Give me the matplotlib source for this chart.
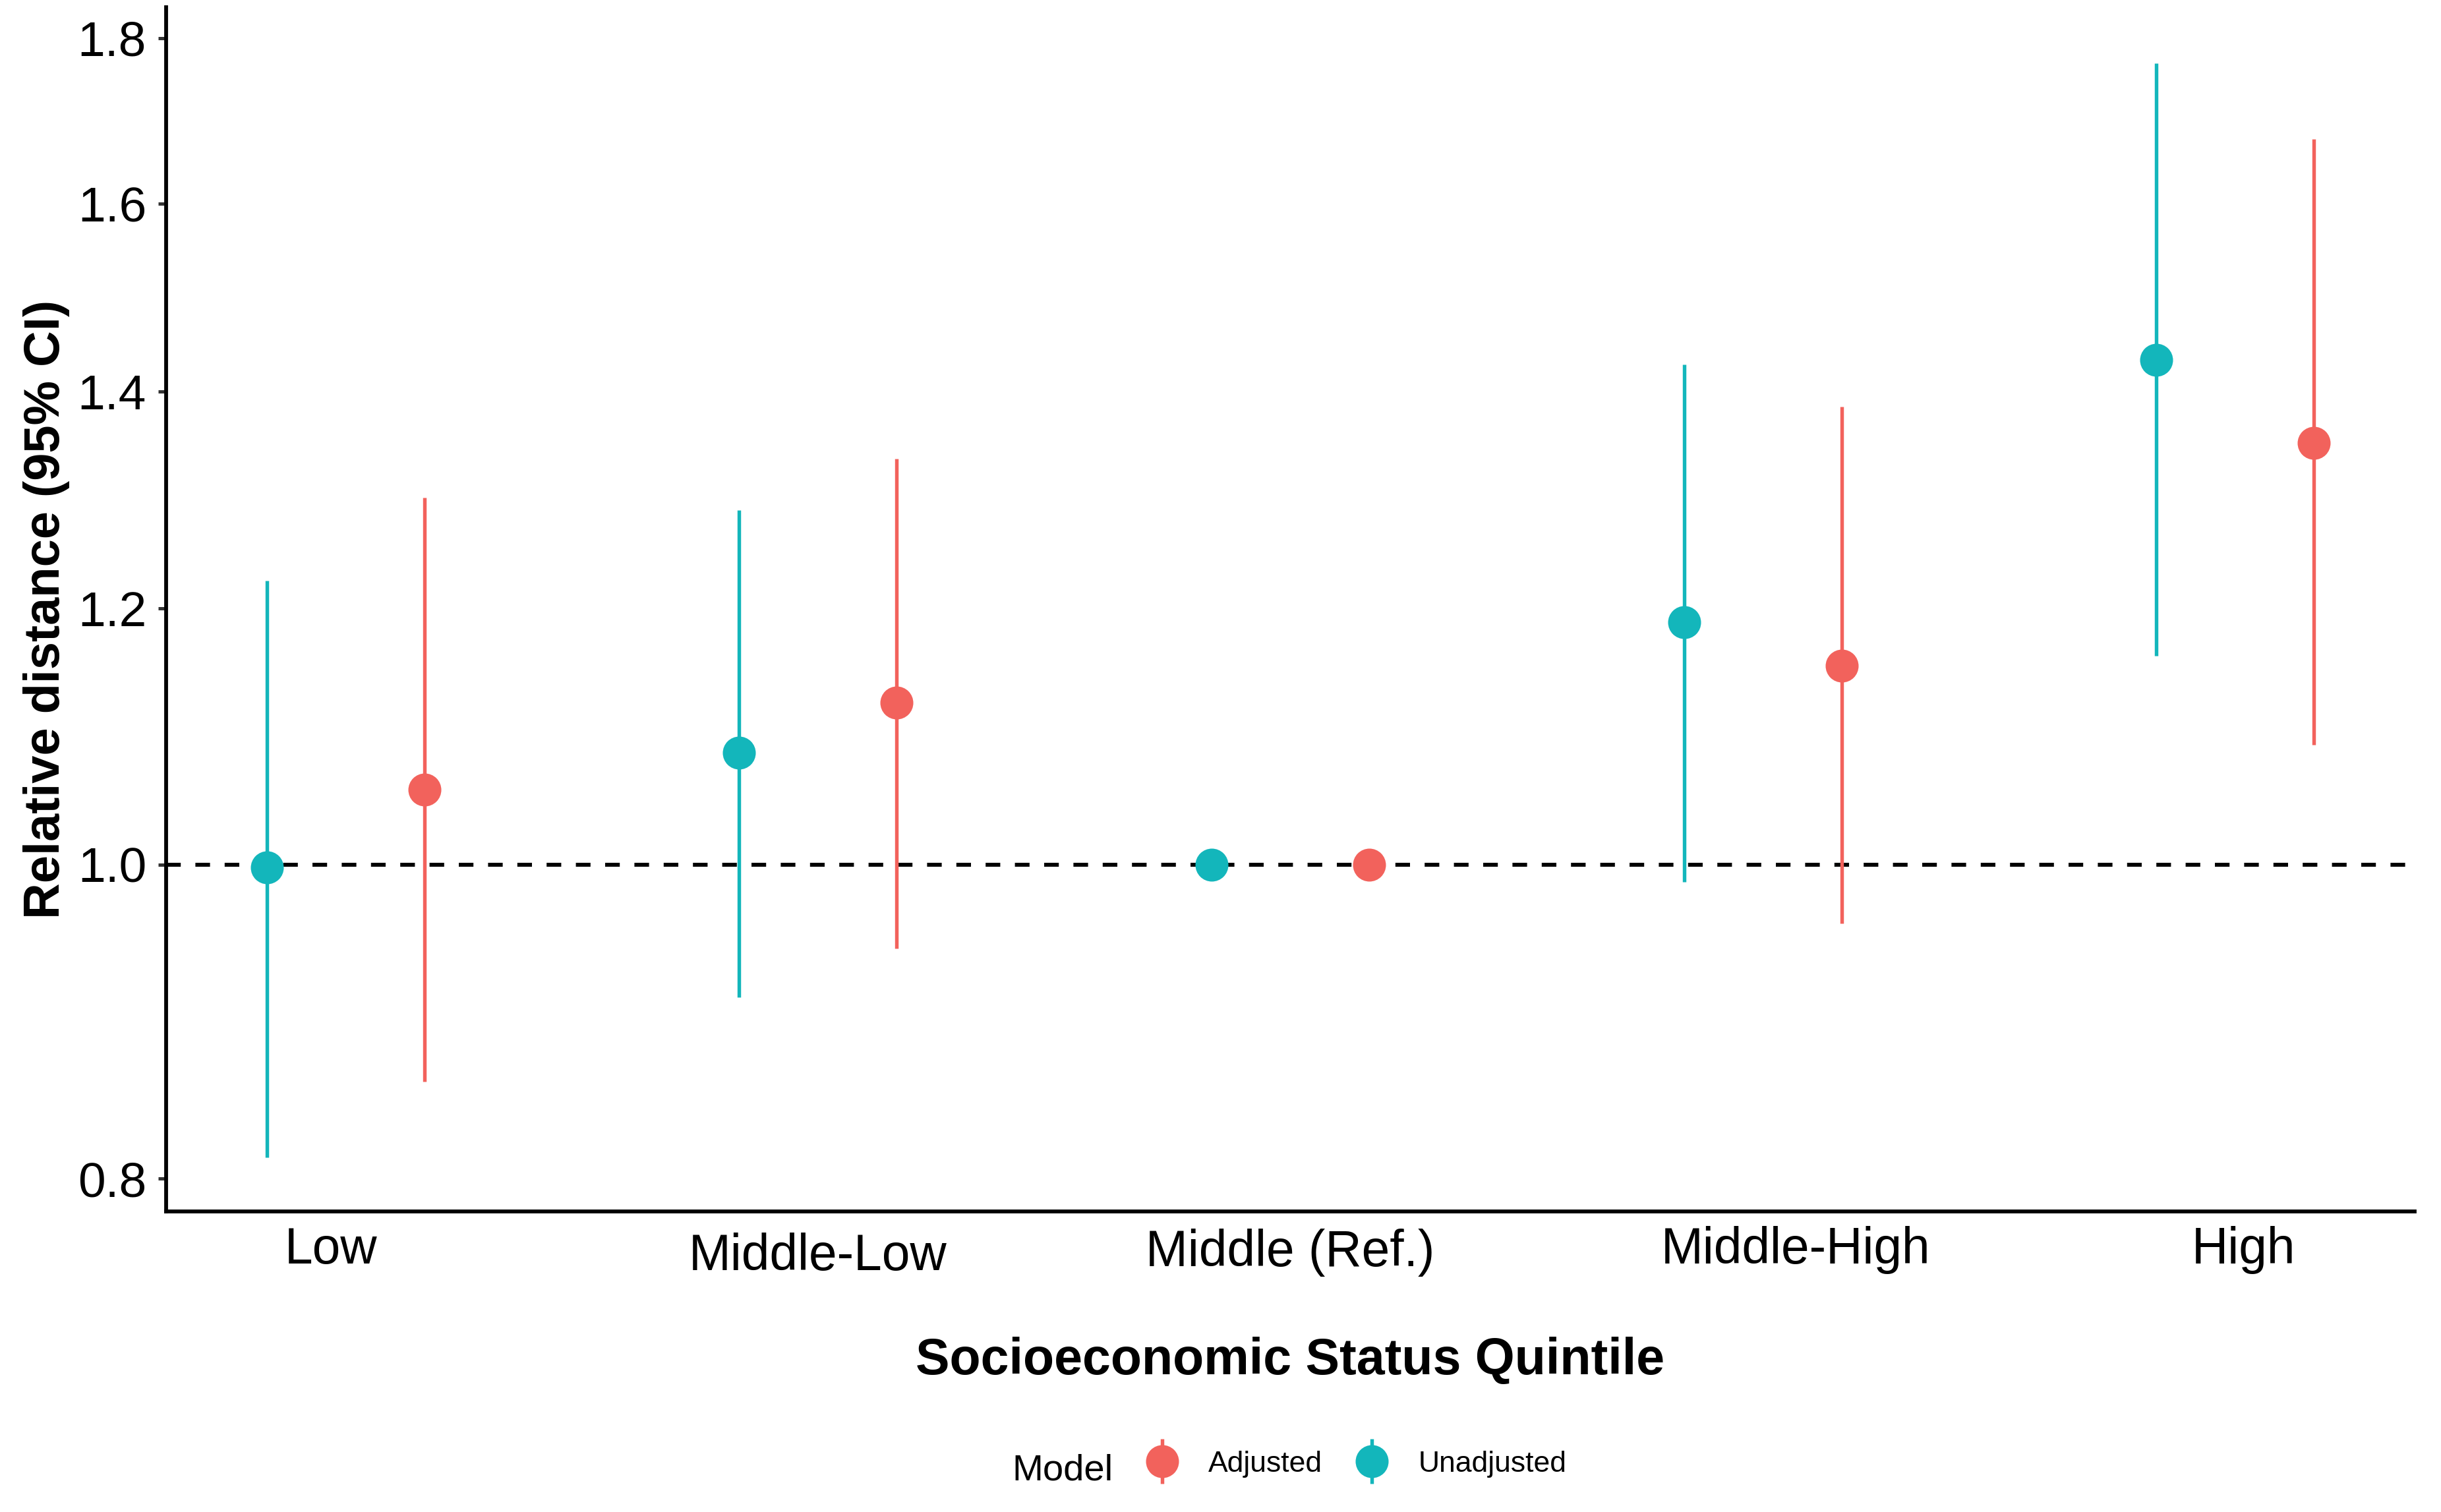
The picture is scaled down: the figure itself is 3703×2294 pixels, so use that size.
import numpy as np
import matplotlib
matplotlib.use('Agg')
from matplotlib import pyplot as plt
from matplotlib.transforms import ScaledTranslation
from matplotlib.container import ErrorbarContainer
from matplotlib.legend_handler import HandlerErrorbar

plt.rcParams['font.family'] = ['Liberation Sans', 'DejaVu Sans']

categories = ['Low', 'Middle-Low', 'Middle (Ref.)', 'Middle-High', 'High']
models = ['Adjusted', 'Unadjusted']

adj_est = [1.055, 1.122, 1.000, 1.152, 1.350]
adj_lo = [0.857, 0.942, 1.000, 0.959, 1.089]
adj_hi = [1.298, 1.335, 1.000, 1.385, 1.675]

unadj_est = [0.998, 1.083, 1.000, 1.188, 1.432]
unadj_lo = [0.812, 0.910, 1.000, 0.988, 1.160]
unadj_hi = [1.224, 1.287, 1.000, 1.427, 1.768]

colors = {'Adjusted': '#F2625C', 'Unadjusted': '#13B6BB'}

fig = plt.figure(figsize=(3703 / 300, 2294 / 300), dpi=300)
ax = fig.add_axes([252 / 3703, 1 - 1838 / 2294, (3663 - 252) / 3703, (1838 - 11) / 2294])

x = np.arange(1, len(categories) + 1)
dodge = 0.1668

ax.axhline(1.0, color='black', lw=1.44, dashes=(3.7, 3.7), zorder=1.5)

series = {
    'Adjusted': (adj_est, adj_lo, adj_hi, dodge),
    'Unadjusted': (unadj_est, unadj_lo, unadj_hi, -dodge),
}
for name in models:
    est, lo, hi, off = series[name]
    est = np.array(est)
    ax.errorbar(x + off, est, yerr=[est - np.array(lo), np.array(hi) - est],
                fmt='o', color=colors[name], ms=12, mew=0, elinewidth=1.3,
                capsize=0, label=name, zorder=2)

ax.set_yscale('log')
ax.set_ylim(0.7815, 1.840)
ax.set_xlim(0.62, 5.38)
yt = [0.8, 1.0, 1.2, 1.4, 1.6, 1.8]
ax.set_yticks(yt)
ax.set_yticklabels([f'{v:.1f}' for v in yt])
ax.yaxis.set_minor_locator(matplotlib.ticker.NullLocator())
ax.set_xticks(x)
ax.set_xticklabels(categories)

ax.tick_params(axis='y', labelsize=18, length=2.9, width=1.2, color='#333333', pad=4.3, labelcolor='black')
ax.tick_params(axis='x', labelsize=18.4, length=0, pad=5.3, labelcolor='black')

for side in ['top', 'right']:
    ax.spines[side].set_visible(False)
for side in ['left', 'bottom']:
    ax.spines[side].set_linewidth(1.4)
    ax.spines[side].set_color('black')

# small shifts of the x labels, in pixels
shifts = [(-22, 0), (0, -10), (0, -4), (50, 0), (13, 0)]
for lab, (dx, dy) in zip(ax.get_xticklabels(), shifts):
    lab.set_transform(lab.get_transform() + ScaledTranslation(dx / 300, dy / 300, fig.dpi_scale_trans))

fig.text(71 / 3703, 1 - 924 / 2294, 'Relative distance (95% CI)', rotation=90,
         fontsize=18.2, fontweight='bold', ha='center', va='center')
fig.text(1957 / 3703, 1 - 2085 / 2294, 'Socioeconomic Status Quintile',
         fontsize=18.5, fontweight='bold', ha='center', va='baseline')

fig.text(1535 / 3703, 1 - 2246 / 2294, 'Model', fontsize=13.5, ha='left', va='baseline')
handles, labels = ax.get_legend_handles_labels()
fig.legend(handles, labels, loc='center left', bbox_to_anchor=(1736 / 3703, 1 - 2221 / 2294),
           bbox_transform=fig.transFigure, ncol=2, frameon=False, fontsize=10.7,
           handlelength=1.2, handletextpad=0.975, columnspacing=1.08, borderpad=0,
           borderaxespad=0, handler_map={ErrorbarContainer: HandlerErrorbar(xerr_size=0.76)})

fig.savefig('out.png', dpi=300, facecolor='white')
